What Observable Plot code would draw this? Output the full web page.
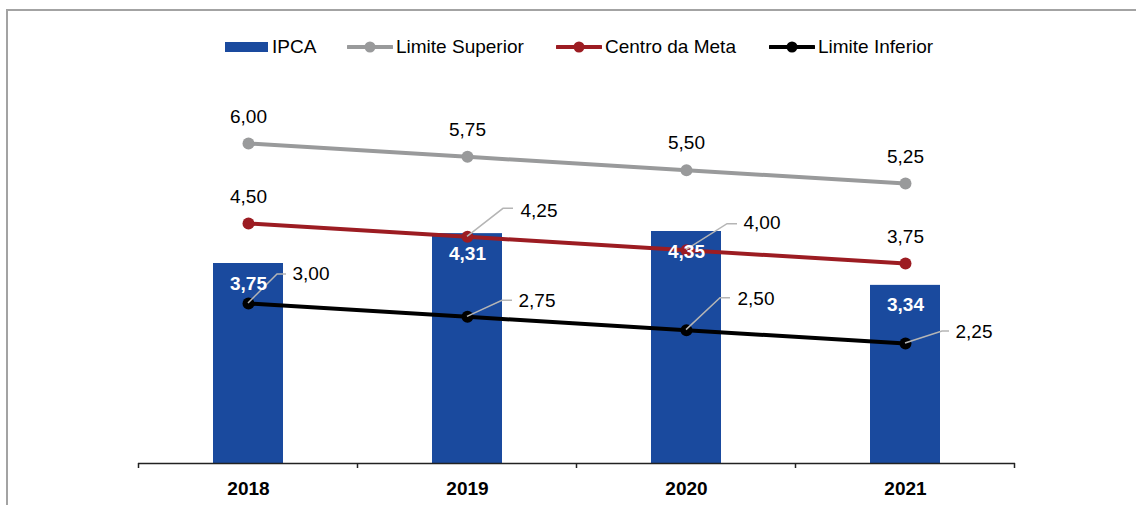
<!DOCTYPE html>
<html>
<head>
<meta charset="utf-8">
<script src="https://cdn.jsdelivr.net/npm/d3@7"></script>
<script src="https://cdn.jsdelivr.net/npm/@observablehq/plot@0.6"></script>
<style>
  html, body { margin: 0; padding: 0; background: #fff; }
  #wrap { position: relative; width: 1136px; height: 505px; overflow: hidden; font-family: "Liberation Sans", Arial, sans-serif; }
  #frame { position: absolute; left: 6px; top: 9px; width: 1140px; height: 510px; border-top: 2px solid #a3a3a3; border-left: 2px solid #a3a3a3; }
  #legend { position: absolute; left: 0; top: 35px; width: 1136px; height: 24px; }
  .item { position: absolute; top: 0; height: 24px; display: flex; align-items: center; font-size: 19px; color: #000; }
  .item svg { display: block; margin-right: 3px; }
  #chart { position: absolute; left: 0; top: 0; }
</style>
</head>
<body>
<div id="wrap">
  <div id="frame"></div>
  <div id="chart"></div>
  <div id="legend"></div>
</div>
<script>
// ---- data ----
const years = ["2018", "2019", "2020", "2021"];
const ipca = [3.75, 4.31, 4.35, 3.34];
const limiteSuperior = [6.00, 5.75, 5.50, 5.25];
const centroMeta = [4.50, 4.25, 4.00, 3.75];
const limiteInferior = [3.00, 2.75, 2.50, 2.25];
const seriesNames = ["IPCA", "Limite Superior", "Centro da Meta", "Limite Inferior"];

// ---- styles ----
const colors = {
  "IPCA": "#1a4a9e",
  "Limite Superior": "#999a9b",
  "Centro da Meta": "#9c1c22",
  "Limite Inferior": "#000000"
};
const fmt = v => v.toFixed(2).replace(".", ",");
const FS = 19;

// label layout: [dx, dy, leader elbow dx, elbow dy, leader end dx] (null = centered above point)
const labelLayout = {
  "Limite Superior": [null, null, null, null],
  "Centro da Meta": [null, [53, -26, 36, -28, 46], [57, -27, 41, -26, 51], null],
  "Limite Inferior": [[44, -30, 29, -29, 38], [51, -16, 35, -16, 45], [51, -31, 34, -32, 44], [50, -12, 37, -12, 44]]
};

const rows = years.map((y, i) => ({
  year: y,
  ipca: ipca[i],
  sup: limiteSuperior[i],
  meta: centroMeta[i],
  inf: limiteInferior[i]
}));

const lineSeries = [
  {name: "Limite Superior", key: "sup"},
  {name: "Centro da Meta", key: "meta"},
  {name: "Limite Inferior", key: "inf"}
];

const font = "Liberation Sans, Arial, sans-serif";

const marks = [
  Plot.barY(rows, {x: "year", y: "ipca", fill: colors["IPCA"]}),
  Plot.ruleY([0], {stroke: "#222", strokeWidth: 1.5}),
  Plot.text(rows, {x: "year", y: 0, dy: 25, text: "year", fontWeight: "bold", fontSize: FS, fill: "#000"})
];

for (const s of lineSeries) {
  marks.push(Plot.line(rows, {x: "year", y: s.key, stroke: colors[s.name], strokeWidth: 4}));
  marks.push(Plot.dot(rows, {x: "year", y: s.key, r: 6, fill: colors[s.name], stroke: "none"}));
}
marks.push(Plot.text(rows, {x: "year", y: "ipca", dy: 20, text: d => fmt(d.ipca), fontWeight: "bold", fontSize: FS, fill: "#fff"}));

for (const s of lineSeries) {
  rows.forEach((r, i) => {
    const lay = labelLayout[s.name][i];
    if (lay == null) {
      marks.push(Plot.text([r], {x: "year", y: s.key, dy: -27, text: d => fmt(d[s.key]), fontSize: FS, fill: "#000"}));
    } else {
      marks.push(Plot.text([r], {x: "year", y: s.key, dx: lay[0], dy: lay[1], textAnchor: "start", text: d => fmt(d[s.key]), fontSize: FS, fill: "#000"}));
    }
  });
}

const chart = Plot.plot({
  width: 1136,
  height: 505,
  marginTop: 143,
  marginBottom: 42,
  marginLeft: 138,
  marginRight: 121,
  style: {fontFamily: font, background: "transparent", overflow: "visible"},
  x: {type: "band", domain: years, paddingInner: 0.68, paddingOuter: 0.34, axis: null},
  y: {domain: [0, 6], axis: null},
  marks
});
document.getElementById("chart").appendChild(chart);

// leaders and boundary ticks, positioned through Plot's own scales
const xs = chart.scale("x");
const ys = chart.scale("y");
const svg = d3.select(chart);
const cx = yr => xs.apply(yr) + xs.bandwidth / 2;
const g = svg.append("g");
for (const s of lineSeries) {
  rows.forEach((r, i) => {
    const lay = labelLayout[s.name][i];
    if (lay == null) return;
    const px = cx(r.year), py = ys.apply(r[s.key]);
    g.append("path")
      .attr("d", `M${px},${py}L${px + lay[2]},${py + lay[3]}L${px + lay[4]},${py + lay[3]}`)
      .attr("fill", "none").attr("stroke", "#b5b5b5").attr("stroke-width", 1.5);
  });
}
const step = xs.step;
const y0 = ys.apply(0);
const bounds = years.map(yr => cx(yr) - step / 2).concat([cx(years[years.length - 1]) + step / 2]);
bounds.forEach(b => {
  g.append("line").attr("x1", b).attr("x2", b).attr("y1", y0).attr("y2", y0 + 5)
    .attr("stroke", "#222").attr("stroke-width", 1.5);
});
// keep value labels above the leaders
svg.selectAll("g[aria-label='text']").raise();

// legend
const legendPos = {"IPCA": 225, "Limite Superior": 347, "Centro da Meta": 556, "Limite Inferior": 769};
const legend = d3.select("#legend");
for (const name of seriesNames) {
  const item = legend.append("div").attr("class", "item").style("left", legendPos[name] + "px");
  const sw = item.append("svg").attr("width", 46).attr("height", 24);
  if (name === "IPCA") {
    sw.attr("width", 44);
    sw.append("rect").attr("x", 0).attr("y", 7).attr("width", 43).attr("height", 10).attr("fill", colors[name]);
  } else {
    sw.append("line").attr("x1", 1).attr("x2", 45).attr("y1", 12).attr("y2", 12)
      .attr("stroke", colors[name]).attr("stroke-width", 4).attr("stroke-linecap", "round");
    sw.append("circle").attr("cx", 23).attr("cy", 12).attr("r", 5.5).attr("fill", colors[name]);
  }
  item.append("span").text(name);
}
</script>
</body>
</html>
